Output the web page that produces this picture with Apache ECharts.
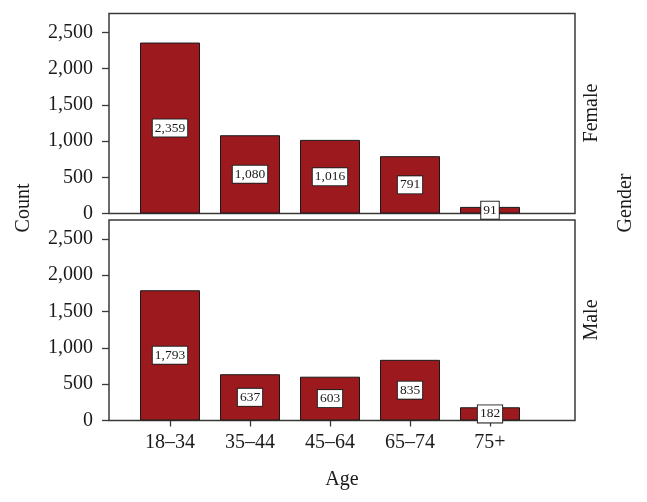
<!DOCTYPE html>
<html><head><meta charset="utf-8">
<script src="https://cdn.jsdelivr.net/npm/echarts@6/dist/echarts.min.js"></script>
<style>html,body{margin:0;padding:0;background:#fff}#c{width:647px;height:502px}</style>
</head><body><div id="c"></div>
<script>
const categories = ['18\u201334', '35\u201344', '45\u201364', '65\u201374', '75+'];
const femaleCounts = [2359, 1080, 1016, 791, 91];
const maleCounts = [1793, 637, 603, 835, 182];
const yTicks = [0, 500, 1000, 1500, 2000, 2500];
const panelNames = ['Female', 'Male'];

const FONT = '"Liberation Serif", "DejaVu Serif", serif';
const TXT = '#1a1a1a';
const FRAME = '#3a3a3a';
const BAR = '#9c1a1e';
const YMAX = 2760;

const chart = echarts.init(document.getElementById('c'), null, {renderer: 'canvas'});

const fmt = v => yTicks.includes(v) ? v.toLocaleString('en-US') : '';

const frameY = (gi) => ({
  gridIndex: gi, type: 'value', min: 0, max: YMAX, interval: 500,
  axisLine: {show: false}, splitLine: {show: false},
  axisTick: {show: true, length: 7, lineStyle: {color: FRAME, width: 1.3}},
  axisLabel: {formatter: fmt, showMaxLabel: false, fontFamily: FONT, fontSize: 20, color: TXT, margin: 16}
});
const barY = (gi) => ({
  gridIndex: gi, type: 'value', min: 0, max: YMAX, interval: 500, show: false
});

const labelStyle = {
  show: true, position: 'inside', fontFamily: FONT, fontSize: 13.5, color: TXT,
  backgroundColor: '#fff', borderColor: '#222', borderWidth: 1, padding: [2, 2, 1, 2],
  formatter: p => p.value.toLocaleString('en-US')
};

const sideText = (txt, x, y) => ({
  type: 'text', x: x, y: y, rotation: Math.PI / 2,
  style: {text: txt, fontFamily: FONT, fontSize: 20, fill: TXT, align: 'center', verticalAlign: 'middle'}
});

chart.setOption({
  animation: false,
  grid: [
    {left: 109, top: 13.5, width: 466, height: 200, show: true, borderColor: FRAME, borderWidth: 1.5, backgroundColor: 'transparent'},
    {left: 130, top: 13.5, width: 400, height: 200},
    {left: 109, top: 220, width: 466, height: 200.5, show: true, borderColor: FRAME, borderWidth: 1.5, backgroundColor: 'transparent'},
    {left: 130, top: 220, width: 400, height: 200.5}
  ],
  xAxis: [
    {gridIndex: 0, type: 'value', min: 0, max: 1, show: false},
    {gridIndex: 1, type: 'category', data: categories, show: false},
    {gridIndex: 2, type: 'value', min: 0, max: 1, show: false},
    {gridIndex: 3, type: 'category', data: categories,
      axisLine: {show: false},
      axisTick: {show: true, alignWithLabel: true, length: 6, lineStyle: {color: FRAME, width: 1.3}},
      axisLabel: {fontFamily: FONT, fontSize: 20, color: TXT, margin: 12}}
  ],
  yAxis: [frameY(0), barY(1), frameY(2), barY(3)],
  series: [
    {type: 'bar', xAxisIndex: 1, yAxisIndex: 1, data: femaleCounts, barWidth: 60,
      itemStyle: {color: BAR, borderColor: '#1a1a1a', borderWidth: 1}, label: labelStyle},
    {type: 'bar', xAxisIndex: 3, yAxisIndex: 3, data: maleCounts, barWidth: 60,
      itemStyle: {color: BAR, borderColor: '#1a1a1a', borderWidth: 1}, label: labelStyle}
  ],
  graphic: [
    sideText('Count', 24, 208),
    sideText(panelNames[0], 592, 113),
    sideText(panelNames[1], 592, 320),
    sideText('Gender', 626, 203),
    {type: 'text', x: 342, y: 480,
      style: {text: 'Age', fontFamily: FONT, fontSize: 20, fill: TXT, align: 'center', verticalAlign: 'middle'}}
  ]
});
</script>
</body></html>
